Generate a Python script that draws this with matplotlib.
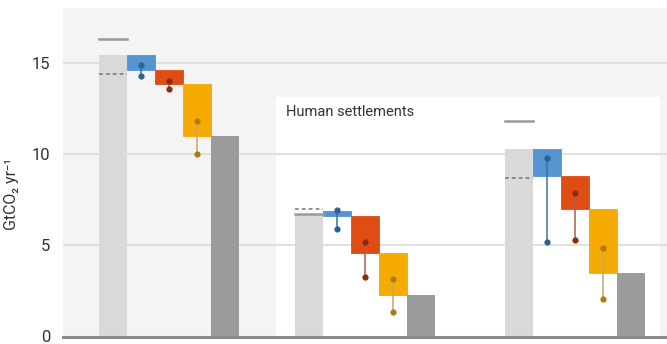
import matplotlib.pyplot as plt
from matplotlib.patches import Rectangle

plt.rcParams['font.family'] = ['Roboto', 'DejaVu Sans']

# emissions per group (GtCO2/yr)
baseline = [15.4, 6.7, 10.27]
solid_mark = [16.3, 6.7, 11.8]
dashed_mark = [14.4, 7.0, 8.7]

blue_top = [15.4, 6.9, 10.27]
blue_bottom = [14.6, 6.6, 8.78]
red_bottom = [13.85, 4.58, 6.98]
yellow_bottom = [11.0, 2.26, 3.49]

blue_hi = [14.9, 6.93, 9.78]
blue_lo = [14.3, 5.9, 5.16]
red_hi = [14.0, 5.18, 7.86]
red_lo = [13.57, 3.27, 5.27]
yellow_hi = [11.8, 3.17, 4.86]
yellow_lo = [10.0, 1.35, 2.08]

group_start = [1.29, 8.29, 15.79]

fig = plt.figure(figsize=(6.67, 3.44), dpi=100)
ax = fig.add_axes([63 / 667, 7.5 / 344, 604 / 667, 328.5 / 344])
ax.set_facecolor('#f4f4f4')
ax.set_xlim(0, 604 / 28)
ax.set_ylim(0, 18)

# white panel behind the settlements group
ax.add_patch(Rectangle((7.61, 0), 13.71, 13.15, facecolor='white', edgecolor='none', zorder=0.5))
ax.text(7.95, 12.3, 'Human settlements', fontsize=10.5, color='#333333', va='center', zorder=3)

for y in [5, 10, 15]:
    ax.axhline(y, color='#dddddd', lw=1.3, zorder=1)

w = 1.0
steps = [
    (blue_top, blue_bottom, blue_hi, blue_lo, '#5593d3', '#2e6296', '#3d6f9e'),
    (blue_bottom, red_bottom, red_hi, red_lo, '#e04d14', '#8c2b10', '#b25a44'),
    (red_bottom, yellow_bottom, yellow_hi, yellow_lo, '#f5aa00', '#b07a14', '#c9a46a'),
]

for g, x0 in enumerate(group_start):
    ax.bar(x0, baseline[g], width=w, align='edge', color='#d9d9d9', zorder=2)
    ax.plot([x0, x0 + w], [solid_mark[g]] * 2, color='#9a9a9a', lw=1.8, zorder=3)
    ax.plot([x0, x0 + w], [dashed_mark[g]] * 2, color='#777777', lw=1.1,
            ls=(0, (2.5, 2)), zorder=3)
    for k, (top, bot, hi, lo, col, dot, stem) in enumerate(steps):
        xs = x0 + w * (k + 1)
        ax.bar(xs, top[g] - bot[g], bottom=bot[g], width=w, align='edge',
               color=col, edgecolor=col, lw=0.6, zorder=2)
        xc = xs + w / 2
        ax.plot([xc, xc], [lo[g], hi[g]], color=stem, lw=1.1, zorder=3)
        ax.plot([xc, xc], [lo[g], hi[g]], 'o', color=dot, ms=4.5, mew=0, zorder=4)
    ax.bar(x0 + 4 * w, yellow_bottom[g], width=w, align='edge', color='#9b9b9b', zorder=2)

ax.axhline(0, color='#8a8a8a', lw=2.2, zorder=5, clip_on=False)

ax.set_yticks([0, 5, 10, 15])
ax.set_xticks([])
ax.tick_params(axis='y', length=0, pad=9, labelsize=12, labelcolor='#333333')
for s in ax.spines.values():
    s.set_visible(False)
ax.set_ylabel('GtCO₂ yr⁻¹', fontsize=11.5, color='#333333')
ax.yaxis.set_label_coords(-0.073, 0.435)

fig.savefig('out.png', dpi=100, facecolor='white')
